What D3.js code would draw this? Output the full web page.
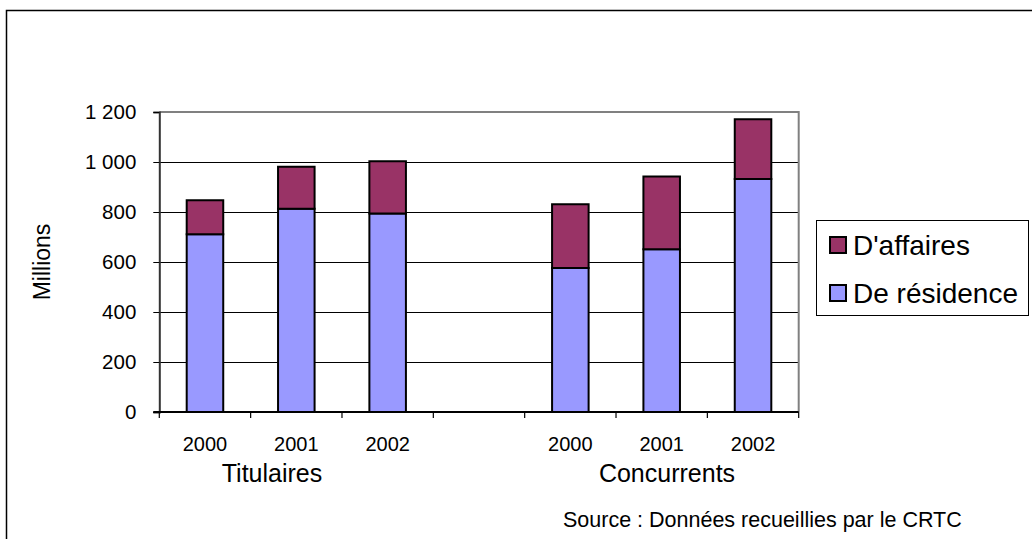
<!DOCTYPE html>
<html>
<head>
<meta charset="utf-8">
<script src="https://cdn.jsdelivr.net/npm/d3@7"></script>
<style>
  html, body { margin: 0; padding: 0; background: #fff; }
  svg { display: block; font-family: "Liberation Sans", Arial, sans-serif; }
</style>
</head>
<body>
<svg id="chart" width="1032" height="539"></svg>
<script>
// Lignes téléphoniques locales (millions), par type de fournisseur
const groups = ["Titulaires", "Concurrents"];
const years = ["2000", "2001", "2002"];
const residence = [711, 813, 794, 576, 651, 932];   // De résidence
const affaires  = [136, 168, 209, 255, 291, 239];   // D'affaires
const yTicks = [0, 200, 400, 600, 800, 1000, 1200];
const seriesNames = ["D'affaires", "De résidence"];
const colors = { affaires: "#993366", residence: "#9999FF" };

// Slots: three years per group, with an empty slot between the groups
const slots = [];
groups.forEach((g, gi) => {
  years.forEach((y, yi) => {
    slots.push({ key: g + "-" + y, group: g, year: y, idx: gi * 3 + yi });
  });
  if (gi < groups.length - 1) slots.push({ key: "gap-" + gi, gap: true });
});

const svg = d3.select("#chart");
const plot = { left: 159.3, right: 798.7, top: 112, bottom: 412 };

const x = d3.scaleBand()
  .domain(slots.map(s => s.key))
  .range([plot.left, plot.right])
  .paddingInner(0.6)
  .paddingOuter(0.3);

const y = d3.scaleLinear().domain([0, 1200]).range([plot.bottom, plot.top]);

// Outer frame (top and left edges)
svg.append("path")
  .attr("d", "M6.5,539 L6.5,10.5 L1032,10.5")
  .attr("fill", "none").attr("stroke", "#000").attr("stroke-width", 1.5);

// Gridlines
svg.append("g")
  .selectAll("line")
  .data(yTicks.filter(t => t > 0 && t < 1200))
  .join("line")
  .attr("x1", plot.left).attr("x2", plot.right)
  .attr("y1", d => Math.round(y(d)) + 0.5).attr("y2", d => Math.round(y(d)) + 0.5)
  .attr("stroke", "#000").attr("stroke-width", 1);

// Plot area border: top and right in grey
svg.append("path")
  .attr("d", `M${plot.left},${plot.top} L${plot.right},${plot.top} L${plot.right},${plot.bottom}`)
  .attr("fill", "none").attr("stroke", "#808080").attr("stroke-width", 2);

// Stacked bars
const barData = slots.filter(s => !s.gap).map(s => ({
  key: s.key,
  res: residence[s.idx],
  aff: affaires[s.idx]
}));

const bars = svg.append("g");
bars.selectAll("rect.res")
  .data(barData)
  .join("rect")
  .attr("class", "res")
  .attr("x", d => x(d.key))
  .attr("width", x.bandwidth())
  .attr("y", d => y(d.res))
  .attr("height", d => y(0) - y(d.res))
  .attr("fill", colors.residence)
  .attr("stroke", "#000").attr("stroke-width", 2);

bars.selectAll("rect.aff")
  .data(barData)
  .join("rect")
  .attr("class", "aff")
  .attr("x", d => x(d.key))
  .attr("width", x.bandwidth())
  .attr("y", d => y(d.res + d.aff))
  .attr("height", d => y(d.res) - y(d.res + d.aff))
  .attr("fill", colors.affaires)
  .attr("stroke", "#000").attr("stroke-width", 2);

// Y axis
const yAxis = svg.append("g")
  .attr("transform", `translate(${plot.left},0)`)
  .call(d3.axisLeft(y).tickValues(yTicks).tickSize(6).tickPadding(17)
    .tickFormat(d => d3.format(",")(d).replace(",", "\u00a0")));
yAxis.select(".domain").attr("stroke", "#333").attr("stroke-width", 2);
yAxis.selectAll(".tick line").attr("stroke", "#000");
yAxis.selectAll(".tick text")
  .attr("font-size", 20.5).attr("fill", "#000")
  .attr("font-family", "\"Liberation Sans\", Arial, sans-serif");

// X axis: ticks at slot boundaries
const boundaries = d3.range(slots.length + 1).map(i => plot.left + i * x.step());
svg.append("line")
  .attr("x1", plot.left - 6).attr("x2", plot.right)
  .attr("y1", plot.bottom).attr("y2", plot.bottom)
  .attr("stroke", "#000").attr("stroke-width", 2);
svg.append("g")
  .selectAll("line")
  .data(boundaries)
  .join("line")
  .attr("x1", d => d).attr("x2", d => d)
  .attr("y1", plot.bottom).attr("y2", plot.bottom + 6)
  .attr("stroke", "#000").attr("stroke-width", 1.2);

// Year labels
svg.append("g")
  .selectAll("text")
  .data(slots.filter(s => !s.gap))
  .join("text")
  .attr("x", d => x(d.key) + x.bandwidth() / 2)
  .attr("y", 451)
  .attr("text-anchor", "middle")
  .attr("font-size", 20)
  .text(d => d.year);

// Group labels
const groupX = { "Titulaires": 272, "Concurrents": 667 };
svg.append("g")
  .selectAll("text")
  .data(groups)
  .join("text")
  .attr("x", d => groupX[d])
  .attr("y", 482)
  .attr("text-anchor", "middle")
  .attr("font-size", 25)
  .text(d => d);

// Y axis title
svg.append("text")
  .attr("transform", "translate(50,262) rotate(-90)")
  .attr("text-anchor", "middle")
  .attr("font-size", 23)
  .text("Millions");

// Legend
const legend = svg.append("g");
legend.append("rect")
  .attr("x", 816.5).attr("y", 220.5).attr("width", 212).attr("height", 95)
  .attr("fill", "#fff").attr("stroke", "#000").attr("stroke-width", 1);
const legendItems = [
  { name: seriesNames[0], color: colors.affaires, cy: 245 },
  { name: seriesNames[1], color: colors.residence, cy: 293 }
];
const li = legend.selectAll("g.item").data(legendItems).join("g").attr("class", "item");
li.append("rect")
  .attr("x", 830).attr("y", d => d.cy - 8)
  .attr("width", 16).attr("height", 16)
  .attr("fill", d => d.color).attr("stroke", "#000").attr("stroke-width", 2);
li.append("text")
  .attr("x", 853).attr("y", d => d.cy + 9.5)
  .attr("font-size", 28)
  .text(d => d.name);

// Source note
svg.append("text")
  .attr("x", 563).attr("y", 527)
  .attr("font-size", 21.5)
  .text("Source : Données recueillies par le CRTC");
</script>
</body>
</html>
